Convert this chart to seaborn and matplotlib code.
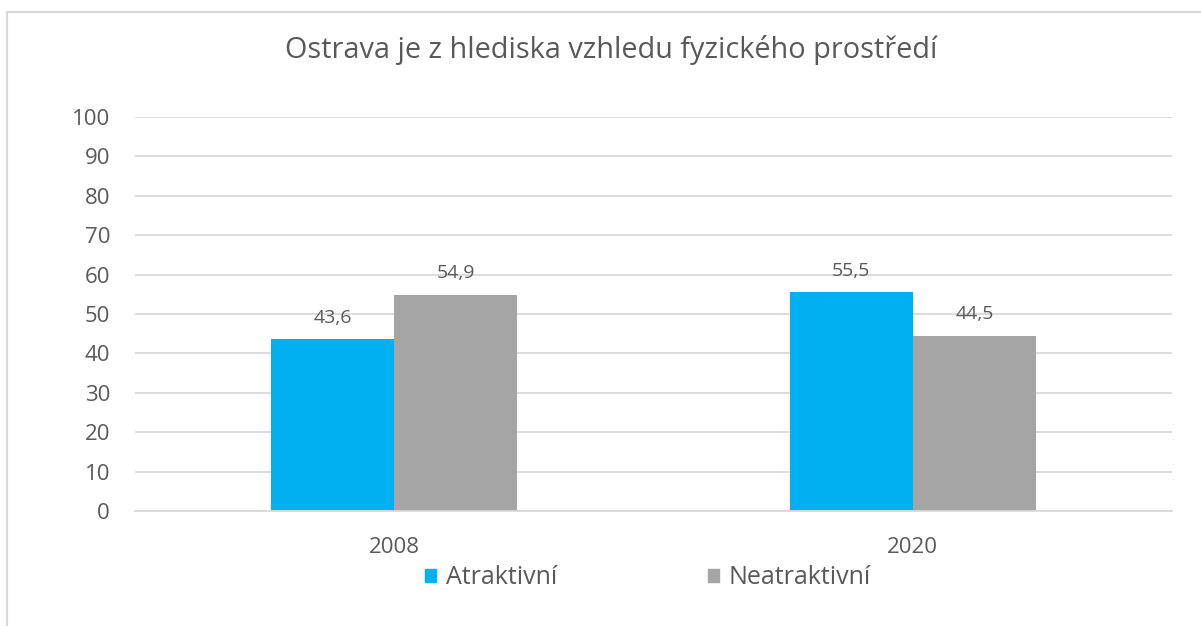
import numpy as np
import pandas as pd
import matplotlib
matplotlib.use('Agg')
import matplotlib.pyplot as plt
from matplotlib.lines import Line2D
import seaborn as sns

# Chart data
years = ['2008', '2020']
series = ['Atraktivní', 'Neatraktivní']
atraktivni = [43.6, 55.5]
neatraktivni = [54.9, 44.5]
y_ticks = [0, 10, 20, 30, 40, 50, 60, 70, 80, 90, 100]

colors = {'Atraktivní': '#00B0F0', 'Neatraktivní': '#A5A5A5'}
text_color = '#595959'
grid_color = '#D9D9D9'

df = pd.DataFrame({
    'Rok': years * 2,
    'Hodnota': atraktivni + neatraktivni,
    'Řada': [series[0]] * len(years) + [series[1]] * len(years),
})

sns.set_style('white')
plt.rcParams['font.family'] = ['Open Sans', 'DejaVu Sans']

fig = plt.figure(figsize=(12.01, 6.26), dpi=100)
ax = fig.add_axes([135 / 1201, 1 - 511 / 626, (1172 - 135) / 1201, (511 - 117) / 626])

sns.barplot(data=df, x='Rok', y='Hodnota', hue='Řada', palette=colors,
            width=0.475, gap=0, ax=ax, legend=False, saturation=1, linewidth=0)

# data labels with decimal comma
for cont in ax.containers:
    vals = cont.datavalues
    ax.bar_label(cont, labels=[f'{v:.1f}'.replace('.', ',') for v in vals],
                 padding=9, fontsize=14, color=text_color)

ax.set_ylim(0, 100)
ax.set_yticks(y_ticks)
ax.set_xlim(-0.5, 1.5)
ax.yaxis.grid(True, color=grid_color, linewidth=1.3)
ax.set_axisbelow(True)
for s in ['top', 'right', 'left']:
    ax.spines[s].set_visible(False)
ax.spines['bottom'].set_color(grid_color)
ax.spines['bottom'].set_linewidth(1.3)
ax.tick_params(axis='both', length=0, labelsize=16, colors=text_color)
ax.tick_params(axis='y', pad=18)
ax.tick_params(axis='x', pad=19)
ax.set_xlabel('')
ax.set_ylabel('')

fig.text(611 / 1201, 1 - 50 / 626, 'Ostrava je z hlediska vzhledu fyzického prostředí',
         ha='center', va='center', fontsize=20.8, color=text_color)

handles = [plt.Rectangle((0, 0), 1, 1, color=colors[s]) for s in series]
fig.legend(handles, series, loc='center', bbox_to_anchor=(648 / 1201, 1 - 578 / 626),
           ncol=2, frameon=False, fontsize=18, labelcolor=text_color,
           handlelength=0.45, handleheight=0.45, handletextpad=0.4, columnspacing=6.0)

# chart border (left and top edges visible)
fig.add_artist(Line2D([7 / 1201, 7 / 1201, 1.0], [0.0, 1 - 12 / 626, 1 - 12 / 626],
                      transform=fig.transFigure, color=grid_color, linewidth=1.5))

fig.savefig('out.png', dpi=100, facecolor='white')
